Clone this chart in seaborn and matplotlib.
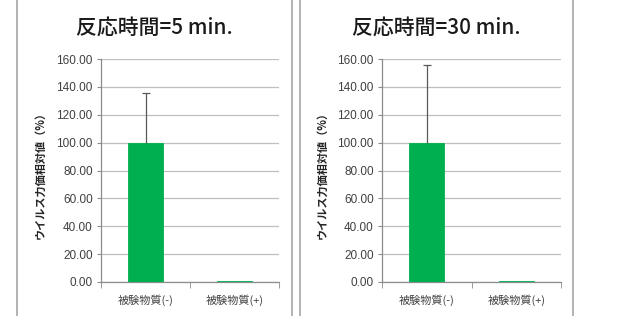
import matplotlib
matplotlib.use("Agg")
import matplotlib.pyplot as plt
import seaborn as sns
import pandas as pd
from matplotlib.lines import Line2D

# data
categories = ["被験物質(-)", "被験物質(+)"]
titles = ["反応時間=5 min.", "反応時間=30 min."]
values_5min = [100.0, 0.5]
err_5min = [35.5, 0.0]
values_30min = [100.0, 0.5]
err_30min = [56.0, 0.0]
yticks = [0, 20, 40, 60, 80, 100, 120, 140, 160]

sns.set_style("white")
plt.rcParams["font.family"] = ["Noto Sans CJK JP", "DejaVu Sans"]

W, H = 620, 316
fig = plt.figure(figsize=(W / 100, H / 100), dpi=100)

green = "#00B050"
grid_c = "#BFBFBF"
text_c = "#404040"

panels = [
    # axes left px, width px, panel border left/right px, ylabel x px
    dict(ax_left=101, ax_w=178, box=(17, 292), ylab_x=40,
         vals=values_5min, errs=err_5min, title=titles[0]),
    dict(ax_left=382, ax_w=179, box=(300, 573), ylab_x=322,
         vals=values_30min, errs=err_30min, title=titles[1]),
]

ax_top, ax_bottom = 59, 282

for p in panels:
    ax = fig.add_axes([p["ax_left"] / W, (H - ax_bottom) / H,
                       p["ax_w"] / W, (ax_bottom - ax_top) / H])
    df = pd.DataFrame({"cat": categories, "val": p["vals"]})
    sns.barplot(data=df, x="cat", y="val", color=green, saturation=1,
                width=0.39, errorbar=None, ax=ax, zorder=3,
                edgecolor=green, linewidth=0.6)
    # only the upper half of the error bar is drawn, like Excel "plus"
    idx = [i for i, e in enumerate(p["errs"]) if e > 0]
    eb = ax.errorbar(idx, [p["vals"][i] for i in idx],
                     yerr=[[0] * len(idx), [p["errs"][i] for i in idx]],
                     fmt="none", ecolor="#595959", elinewidth=0.9,
                     capsize=3, capthick=0.9, zorder=4)
    eb[1][0].set_visible(False)
    ax.set_ylim(0, 160)
    ax.set_xlim(-0.5, 1.5)
    ax.set_yticks(yticks)
    ax.set_yticklabels([f"{v:.2f}" for v in yticks], fontsize=8.5,
                       color=text_c, family=["Liberation Sans", "DejaVu Sans"])
    ax.yaxis.grid(True, color=grid_c, linewidth=0.9, zorder=0)
    ax.set_axisbelow(True)
    ax.set_xlabel("")
    ax.set_ylabel("")
    ax.tick_params(axis="x", length=0, pad=9, labelsize=8, labelcolor=text_c)
    ax.set_xticks([-0.5, 0.5, 1.5], minor=True)
    ax.tick_params(axis="x", which="minor", length=4, color="#8C8C8C",
                   direction="out", bottom=True)
    ax.tick_params(axis="y", length=3, color="#8C8C8C", direction="out",
                   left=True, pad=3)
    for s in ["top", "right"]:
        ax.spines[s].set_visible(False)
    for s in ["left", "bottom"]:
        ax.spines[s].set_color("#8C8C8C")
        ax.spines[s].set_linewidth(0.9)

    x0, x1 = p["box"]
    fig.text((x0 + x1) / 2 / W, 1 - 28 / H, p["title"], ha="center",
             va="center", fontsize=15, color="#1a1a1a", fontweight="medium")
    fig.text(p["ylab_x"] / W, 1 - 172 / H, "ウイルス力価相対値（%）",
             rotation=90, ha="center", va="center", fontsize=8,
             fontweight="bold", color="#262626")
    for xp in (x0, x1):
        fig.add_artist(Line2D([xp / W, xp / W], [0, 1], color="#A6A6A6",
                              linewidth=1.2))

fig.savefig("out.png", dpi=100)
